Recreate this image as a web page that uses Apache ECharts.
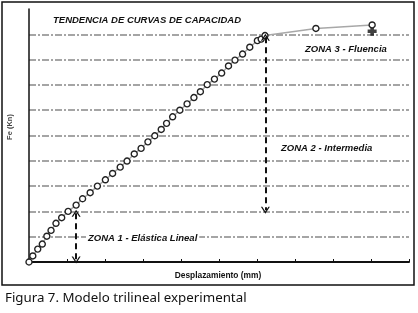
<!DOCTYPE html>
<html>
<head>
<meta charset="utf-8">
<script src="https://cdn.jsdelivr.net/npm/echarts@6/dist/echarts.min.js"></script>
<style>
  html, body { margin: 0; padding: 0; background: #fff; }
  #chart { width: 418px; height: 313px; }
</style>
</head>
<body>
<div id="chart"></div>
<script>
// desplazamiento (mm) y fuerza (Kn)
var desplazamiento = [0, 0.10, 0.23, 0.35, 0.47, 0.58, 0.71, 0.86, 1.03, 1.24, 1.41, 1.61, 1.80, 2.01, 2.20, 2.40, 2.58, 2.77, 2.95, 3.13, 3.31, 3.48, 3.62, 3.78, 3.97, 4.16, 4.34, 4.51, 4.69, 4.88, 5.07, 5.25, 5.42, 5.62, 5.81, 6.01, 6.11, 6.21, 7.55, 9.03];
var fuerza = [0, 0.24, 0.51, 0.71, 1.02, 1.25, 1.53, 1.75, 2.00, 2.25, 2.50, 2.74, 3.00, 3.25, 3.50, 3.75, 3.99, 4.27, 4.49, 4.75, 4.99, 5.24, 5.48, 5.74, 6.00, 6.25, 6.50, 6.73, 7.01, 7.23, 7.47, 7.75, 7.98, 8.22, 8.49, 8.75, 8.81, 8.95, 9.23, 9.37];
// marcador final
var puntoFinal = [9.03, 9.12];
// flechas de zonas: [x, yInicio, yFin]
var flechaZona1 = [1.24, 1.93, 0.08];
var flechaZona2 = [6.22, 8.88, 2.05];

var chevron = 'path://M0,10 L5,0 L10,10 L8.4,10 L5,3.2 L1.6,10 Z';

var myChart = echarts.init(document.getElementById('chart'));

var puntos = [];
for (var i = 0; i < desplazamiento.length; i++) {
    puntos.push([desplazamiento[i], fuerza[i]]);
}

var dashFlecha = {
    color: '#111',
    width: 2,
    type: [6, 4]
};

var fuenteZona = 'italic bold 9.5px "Liberation Sans", Arial, sans-serif';

var option = {
    animation: false,
    backgroundColor: '#fff',
    grid: {
        left: 29,
        right: 9,
        top: 9,
        bottom: 51
    },
    xAxis: {
        type: 'value',
        min: 0,
        max: 10,
        interval: 1,
        axisLine: { lineStyle: { color: '#111', width: 2 } },
        axisTick: { show: true, inside: true, length: 3, lineStyle: { color: '#111', width: 1 } },
        axisLabel: { show: false },
        splitLine: { show: false }
    },
    yAxis: {
        type: 'value',
        min: 0,
        max: 10,
        interval: 1,
        axisLine: { show: true, lineStyle: { color: '#111', width: 1.5 } },
        axisTick: { show: false },
        axisLabel: { show: false },
        splitLine: {
            show: true,
            showMinLine: false,
            showMaxLine: false,
            lineStyle: { color: '#888', width: 1.6, type: [7, 2, 2, 2] }
        }
    },
    series: [
        {
            type: 'line',
            data: puntos,
            symbol: 'circle',
            symbolSize: 6,
            showAllSymbol: true,
            lineStyle: { color: '#a8a8a8', width: 1.5 },
            itemStyle: { color: '#fff', borderColor: '#222', borderWidth: 1.4 },
            z: 3
        },
        {
            type: 'scatter',
            data: [puntoFinal],
            symbol: 'path://M3,0 L7,0 L7,3 L10,3 L10,7 L7,7 L7,10 L3,10 L3,7 L0,7 L0,3 L3,3 Z',
            symbolSize: 9,
            itemStyle: { color: '#111' },
            z: 2
        },
        {
            type: 'line',
            data: [],
            markLine: {
                silent: true,
                symbol: [chevron, chevron],
                symbolSize: [9, 7],
                label: { show: false },
                lineStyle: dashFlecha,
                data: [
                    [{ coord: [flechaZona1[0], flechaZona1[1]] }, { coord: [flechaZona1[0], flechaZona1[2]] }],
                    [{ coord: [flechaZona2[0], flechaZona2[1]] }, { coord: [flechaZona2[0], flechaZona2[2]] }]
                ]
            }
        }
    ],
    graphic: [
        {
            type: 'rect',
            shape: { x: 2, y: 2, width: 412, height: 283 },
            style: { fill: 'none', stroke: '#111', lineWidth: 1.5 }
        },
        {
            type: 'text',
            x: 53, y: 20,
            style: {
                text: 'TENDENCIA DE CURVAS DE CAPACIDAD',
                font: 'italic bold 9.5px "Liberation Sans", Arial, sans-serif',
                fill: '#111',
                verticalAlign: 'middle'
            }
        },
        {
            type: 'text',
            x: 305, y: 49,
            style: {
                text: 'ZONA 3 - Fluencia',
                font: fuenteZona,
                fill: '#111',
                verticalAlign: 'middle'
            }
        },
        {
            type: 'text',
            x: 281, y: 148,
            style: {
                text: 'ZONA 2 - Intermedia',
                font: fuenteZona,
                fill: '#111',
                verticalAlign: 'middle'
            }
        },
        {
            type: 'text',
            x: 86, y: 238,
            z: 10,
            style: {
                text: 'ZONA 1 - Elástica Lineal',
                font: fuenteZona,
                fill: '#111',
                backgroundColor: '#fff',
                padding: [1, 2],
                verticalAlign: 'middle'
            }
        },
        {
            type: 'text',
            x: 218, y: 276,
            style: {
                text: 'Desplazamiento (mm)',
                font: 'bold 8.4px "Liberation Sans", Arial, sans-serif',
                fill: '#111',
                align: 'center',
                verticalAlign: 'middle'
            }
        },
        {
            type: 'text',
            x: 10, y: 127,
            rotation: Math.PI / 2,
            style: {
                text: 'Fe (Kn)',
                font: 'bold 7.5px "Liberation Sans", Arial, sans-serif',
                fill: '#444',
                align: 'center',
                verticalAlign: 'middle'
            }
        },
        {
            type: 'text',
            x: 5, y: 298,
            style: {
                text: 'Figura 7. Modelo trilineal experimental',
                font: '13.3px "Noto Sans", sans-serif',
                fill: '#111',
                verticalAlign: 'middle'
            }
        }
    ]
};

myChart.setOption(option);
</script>
</body>
</html>
